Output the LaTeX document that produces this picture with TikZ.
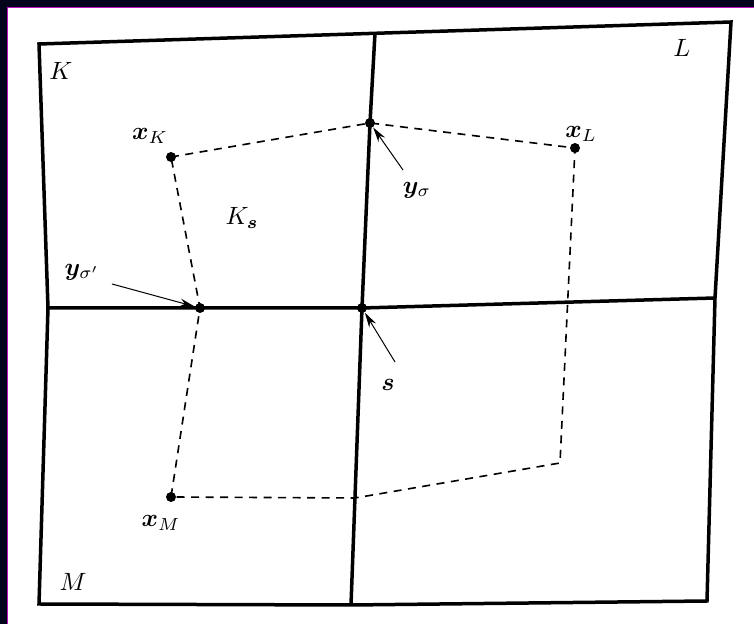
\documentclass[tikz,border=0pt]{standalone}
\usepackage{amsmath}
\usepackage{bm}
\usetikzlibrary{arrows.meta}
\definecolor{framenavy}{RGB}{3,4,28}
\definecolor{framepink}{RGB}{190,20,190}
\tikzset{
  cellline/.style={line width=1.4pt, line join=miter},
  dualline/.style={line width=0.65pt, dash pattern=on 3.2pt off 2.6pt},
  vertex/.style={circle, fill, inner sep=0pt, minimum size=4pt},
  pointer/.style={-{Stealth[length=6pt,width=3.2pt]}, line width=0.4pt},
}

\begin{document}
\begin{tikzpicture}[x=0.4pt,y=-0.4pt]
        \useasboundingbox (0,0) rectangle (754,624);
        \fill[white] (0,0) rectangle (754,624);
        \fill[framenavy] (0,0) rectangle (7,624);
        \fill[framenavy] (0,0) rectangle (754,7);
        \draw[framepink, line width=0.4pt] (7.5,624) -- (7.5,7.5) -- (754,7.5);

        % corners of the four cells
        \coordinate (tl) at (39,44);
        \coordinate (tm) at (375,33);
        \coordinate (tr) at (731,22);
        \coordinate (ml) at (48,308);
        \coordinate (mr) at (715,298);
        \coordinate (bl) at (39,604);
        \coordinate (bm) at (351,605);
        \coordinate (br) at (707,601);

        % points of the dual cell
        \node[vertex] (xK) at (171,157) {};
        \node[vertex] (ysig) at (370,123) {};
        \node[vertex] (xL) at (575,148) {};
        \node[vertex] (ysigp) at (200,308) {};
        \node[vertex] (s) at (362,308) {};
        \node[vertex] (xM) at (171,497) {};
        \coordinate (cr) at (560,463);
        \coordinate (cm) at (355,498);

        \draw[dualline] (xK.center) -- (ysig.center) -- (xL.center) -- (cr)
          -- (cm) -- (xM.center) -- (ysigp.center) -- cycle;

        \draw[cellline] (tl) -- (tr) -- (mr) -- (br) -- (bm) -- (bl) -- (ml) -- cycle;
        \draw[cellline] (ml) -- (s.center) -- (mr);
        \draw[cellline] (tm) -- (ysig.center) -- (s.center) -- (bm);

        % labels
        \node (lK) at (61,71) {$K$};
        \node (lL) at (682,48) {$L$};
        \node (lM) at (73,582) {$M$};
        \node (lKs) at (242,218) {$K_{\boldsymbol{s}}$};
        \node (lxK) at (150,136) {$\boldsymbol{x}_K$};
        \node (lxL) at (581,134) {$\boldsymbol{x}_L$};
        \node (lxM) at (161,523) {$\boldsymbol{x}_M$};
        \node (lysig) at (417,190) {$\boldsymbol{y}_\sigma$};
        \node (lysigp) at (82,272) {$\boldsymbol{y}_{\sigma'}$};
        \node (ls) at (388,385) {$\boldsymbol{s}$};

        % pointers
        \coordinate (ysigtail) at (403,170);
        \coordinate (stail) at (395,362);
        \coordinate (ysigptail) at (112,284);
        \draw[pointer] (ysigtail) -- (ysig);
        \draw[pointer] (stail) -- (s);
        \draw[pointer] (ysigptail) -- (ysigp);
      \end{tikzpicture}
\end{document}
